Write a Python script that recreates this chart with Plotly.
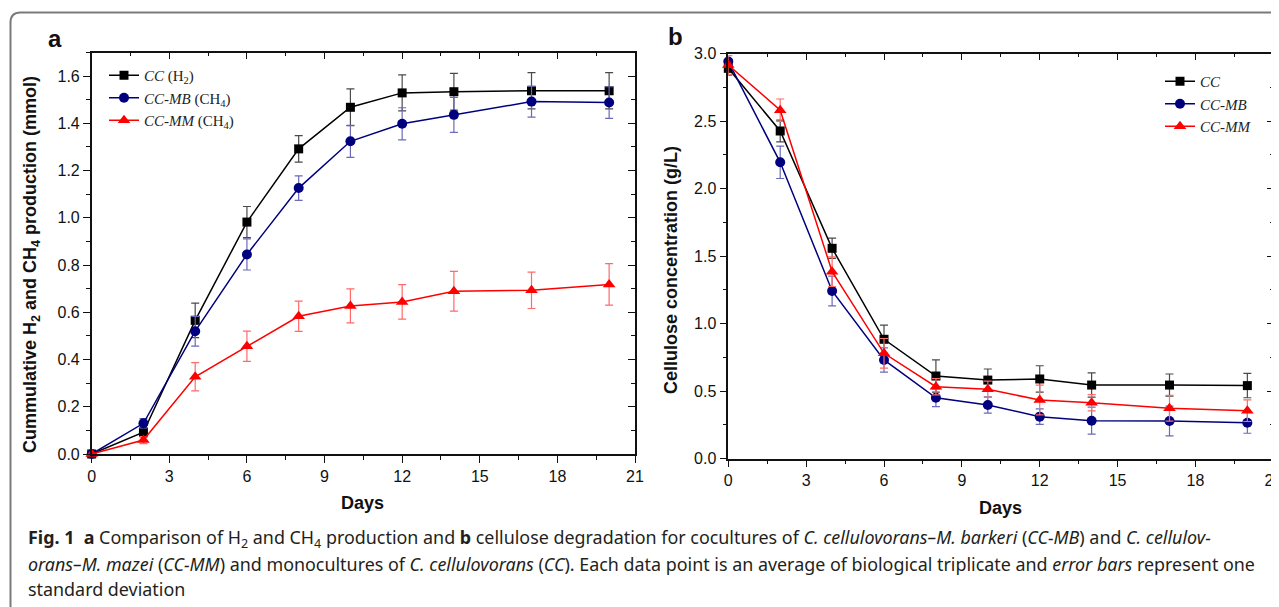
import plotly.graph_objects as go

# ---------------- data ----------------
days = [0, 2, 4, 6, 8, 10, 12, 14, 17, 20]

# panel a: cumulative H2 / CH4 production (mmol)
a_cc_h2 = [0.0, 0.092, 0.566, 0.982, 1.292, 1.468, 1.529, 1.534, 1.538, 1.538]
a_cc_h2_sd = [0.0, 0.02, 0.073, 0.066, 0.056, 0.078, 0.076, 0.078, 0.077, 0.077]
a_ccmb_ch4 = [0.0, 0.130, 0.520, 0.845, 1.126, 1.324, 1.398, 1.436, 1.492, 1.488]
a_ccmb_ch4_sd = [0.0, 0.02, 0.063, 0.066, 0.052, 0.068, 0.068, 0.074, 0.066, 0.067]
a_ccmm_ch4 = [0.0, 0.059, 0.327, 0.456, 0.583, 0.627, 0.644, 0.689, 0.693, 0.718]
a_ccmm_ch4_sd = [0.0, 0.015, 0.06, 0.064, 0.064, 0.072, 0.073, 0.084, 0.077, 0.088]

# panel b: cellulose concentration (g/L)
b_cc = [2.89, 2.426, 1.557, 0.883, 0.611, 0.581, 0.589, 0.544, 0.544, 0.540]
b_cc_sd = [0.05, 0.08, 0.075, 0.105, 0.12, 0.082, 0.098, 0.09, 0.082, 0.09]
b_ccmb = [2.94, 2.194, 1.241, 0.730, 0.450, 0.396, 0.310, 0.280, 0.278, 0.265]
b_ccmb_sd = [0.02, 0.12, 0.11, 0.09, 0.066, 0.06, 0.057, 0.10, 0.11, 0.078]
b_ccmm = [2.915, 2.58, 1.384, 0.779, 0.532, 0.513, 0.433, 0.413, 0.372, 0.354]
b_ccmm_sd = [0.07, 0.083, 0.11, 0.11, 0.06, 0.06, 0.11, 0.06, 0.095, 0.08]

a_names = ["<i>CC</i> (H<sub>2</sub>)", "<i>CC-MB</i> (CH<sub>4</sub>)", "<i>CC-MM</i> (CH<sub>4</sub>)"]
b_names = ["<i>CC</i>", "<i>CC-MB</i>", "<i>CC-MM</i>"]

x_ticks = [0, 3, 6, 9, 12, 15, 18, 21]
a_y_ticks = [0.0, 0.2, 0.4, 0.6, 0.8, 1.0, 1.2, 1.4, 1.6]
b_y_ticks = [0.0, 0.5, 1.0, 1.5, 2.0, 2.5, 3.0]

caption_lines = [
    "<b>Fig. 1</b>  <b>a</b> Comparison of H<sub>2</sub> and CH<sub>4</sub> production and <b>b</b> cellulose "
    "degradation for cocultures of <i>C. cellulovorans–M. barkeri</i> (<i>CC-MB</i>) and <i>C. cellulov-</i>",
    "<i>orans–M. mazei</i> (<i>CC-MM</i>) and monocultures of <i>C. cellulovorans</i> (<i>CC</i>). Each data "
    "point is an average of biological triplicate and <i>error bars</i> represent one",
    "standard deviation",
]

# ---------------- geometry helpers ----------------
# the page body has an 8px margin, so the figure is sized to fit inside the
# 1279x607 window and every position is given in window pixels minus 8.
OFF = 8
W, H = 1279 - OFF, 607 - OFF


def px(x):
    return (x - OFF) / W


def py(y):
    return 1 - (y - OFF) / H


styles = [
    dict(color="#000000", err="#4a4a4a", symbol="square", size=9),
    dict(color="#00007f", err="#6a6ab8", symbol="circle", size=10),
    dict(color="#ff0000", err="#ff6a6a", symbol="triangle-up", size=11),
]

fig = go.Figure()

a_series = [(a_cc_h2, a_cc_h2_sd), (a_ccmb_ch4, a_ccmb_ch4_sd), (a_ccmm_ch4, a_ccmm_ch4_sd)]
b_series = [(b_cc, b_cc_sd), (b_ccmb, b_ccmb_sd), (b_ccmm, b_ccmm_sd)]

for (vals, sd), name, st in zip(a_series, a_names, styles):
    fig.add_trace(go.Scatter(
        x=days, y=vals, name=name, mode="lines+markers",
        line=dict(color=st["color"], width=1.5),
        marker=dict(symbol=st["symbol"], size=st["size"], color=st["color"]),
        error_y=dict(type="data", array=sd, visible=True, color=st["err"], thickness=1.2, width=4),
        cliponaxis=False, xaxis="x", yaxis="y", legend="legend",
    ))

for (vals, sd), name, st in zip(b_series, b_names, styles):
    fig.add_trace(go.Scatter(
        x=days, y=vals, name=name, mode="lines+markers",
        line=dict(color=st["color"], width=1.5),
        marker=dict(symbol=st["symbol"], size=st["size"], color=st["color"]),
        error_y=dict(type="data", array=sd, visible=True, color=st["err"], thickness=1.2, width=4),
        cliponaxis=False, xaxis="x2", yaxis="y2", legend="legend2",
    ))

# empty traces so the mirrored (inside-tick) frame axes are drawn
for xa, ya in (("x3", "y3"), ("x4", "y4")):
    fig.add_trace(go.Scatter(x=[], y=[], xaxis=xa, yaxis=ya, showlegend=False, hoverinfo="skip"))

tick_font = dict(family="Liberation Sans, Arial, sans-serif", size=16, color="#111")
title_font = dict(family="Liberation Sans, Arial, sans-serif", size=18, color="#111")

a_dom_x = [px(91.7), px(635)]
a_dom_y = [py(454), py(52.5)]
b_dom_x = [px(728.3), px(1273.3)]
b_dom_y = [py(458.5), py(53.5)]


def base_axis(dom, rng, tickvals, minor_dtick, fmt, anchor, side):
    return dict(
        domain=dom, range=rng, anchor=anchor, side=side, automargin=False,
        tickmode="array", tickvals=tickvals, tickformat=fmt, ticklabeloverflow="allow",
        ticks="outside", ticklen=7, tickwidth=1.3, tickcolor="#111",
        showline=True, linecolor="#111", linewidth=1.5,
        showgrid=False, zeroline=False, tickfont=tick_font, fixedrange=True,
        minor=dict(ticks="outside", ticklen=4, tickwidth=1.3, tickcolor="#111", dtick=minor_dtick, showgrid=False),
        layer="above traces",
    )


def frame_axis(dom, rng, tickvals, minor_dtick, overlay, anchor, side):
    return dict(
        domain=dom, range=rng, overlaying=overlay, anchor=anchor, side=side, automargin=False,
        tickmode="array", tickvals=tickvals, showticklabels=False,
        ticks="inside", ticklen=7, tickwidth=1.3, tickcolor="#111",
        showline=True, linecolor="#111", linewidth=1.5,
        showgrid=False, zeroline=False, fixedrange=True,
        minor=dict(ticks="inside", ticklen=4, tickwidth=1.3, tickcolor="#111", dtick=minor_dtick, showgrid=False),
    )


legend_font = dict(family="Liberation Serif, Times New Roman, serif", size=15, color="#222")

fig.update_layout(
    template="none",
    width=W, height=H, margin=dict(l=0, r=0, t=0, b=0, pad=0, autoexpand=False),
    paper_bgcolor="white", plot_bgcolor="rgba(0,0,0,0)",
    xaxis=base_axis(a_dom_x, [0, 21], x_ticks, 1.5, "d", "y", "bottom"),
    yaxis=base_axis(a_dom_y, [0, 1.7], a_y_ticks, 0.1, ".1f", "x", "left"),
    xaxis2=base_axis(b_dom_x, [0, 21], x_ticks, 1.5, "d", "y2", "bottom"),
    yaxis2=base_axis(b_dom_y, [0, 3.0], b_y_ticks, 0.25, ".1f", "x2", "left"),
    xaxis3=frame_axis(a_dom_x, [0, 21], x_ticks, 1.5, "x", "y3", "top"),
    yaxis3=frame_axis(a_dom_y, [0, 1.7], a_y_ticks, 0.1, "y", "x3", "right"),
    xaxis4=frame_axis(b_dom_x, [0, 21], x_ticks, 1.5, "x2", "y4", "top"),
    yaxis4=frame_axis(b_dom_y, [0, 3.0], b_y_ticks, 0.25, "y2", "x4", "right"),
    legend=dict(x=px(104), y=py(59), xanchor="left", yanchor="top", bgcolor="rgba(0,0,0,0)",
                font=legend_font, tracegroupgap=0, itemclick=False),
    legend2=dict(x=px(1160), y=py(65), xanchor="left", yanchor="top", bgcolor="rgba(0,0,0,0)",
                 font=legend_font, tracegroupgap=0, itemclick=False),
    showlegend=True,
)

annotations = [
    dict(text="<b>a</b>", x=px(55), y=py(38), font=dict(family="Liberation Sans, Arial", size=24, color="#111")),
    dict(text="<b>b</b>", x=px(675), y=py(36), font=dict(family="Liberation Sans, Arial", size=24, color="#111")),
    dict(text="<b>Cummulative H<sub>2</sub> and CH<sub>4</sub> production (mmol)</b>", x=px(31), y=py(265),
         textangle=-90, font=title_font),
    dict(text="<b>Cellulose concentration (g/L)</b>", x=px(671), y=py(270), textangle=-90, font=title_font),
    dict(text="<b>Days</b>", x=px(362), y=py(503), font=title_font),
    dict(text="<b>Days</b>", x=px(1000), y=py(508), font=title_font),
]
for i, line in enumerate(caption_lines):
    annotations.append(dict(text=line, x=px(26), y=py(538 + 25.5 * i), xanchor="left",
                            font=dict(family="Noto Sans, Open Sans, sans-serif", size=17.9, color="#231f20")))
for a in annotations:
    a.setdefault("xanchor", "center")
    a.update(xref="paper", yref="paper", showarrow=False, yanchor="middle")
fig.update_layout(annotations=annotations)

# rounded figure frame (top-left corner visible)
x0, y0, r = px(10.5), py(12.5), 10
frame_path = (f"M {x0},{py(620)} L {x0},{py(12.5 + r)} "
              f"Q {x0},{y0} {px(10.5 + r)},{y0} L {px(1290)},{y0}")
fig.add_shape(type="path", path=frame_path, xref="paper", yref="paper",
              line=dict(color="#7a7a7a", width=2))

fig.write_html("out.html", config=dict(displayModeBar=False))
